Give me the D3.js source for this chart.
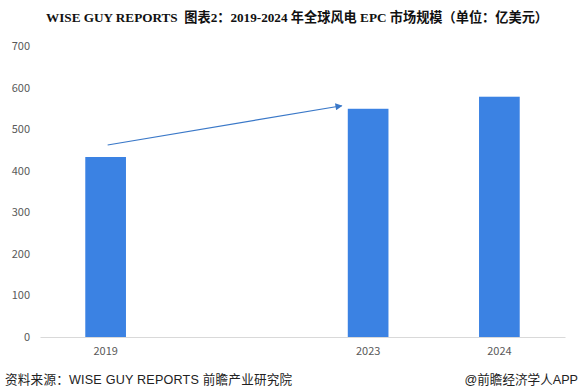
<!DOCTYPE html>
<html><head><meta charset="utf-8">
<script src="https://cdn.jsdelivr.net/npm/d3@7"></script>
<style>body{margin:0;background:#fff;}svg{display:block;} text{white-space:pre;}</style>
</head><body>
<svg id="c" width="582" height="390"></svg>
<script>
const categories = ["2019", "", "2023", "2024"];
const values = [433, null, 549, 578];
const yTicks = [0, 100, 200, 300, 400, 500, 600, 700];
const title = "WISE GUY REPORTS  图表2：2019-2024 年全球风电 EPC 市场规模（单位：亿美元）";
const source = "资料来源：WISE GUY REPORTS 前瞻产业研究院";
const credit = "@前瞻经济学人APP";

const svg = d3.select("#c");
const x = d3.scaleBand().domain(categories).range([40, 565]).paddingInner(0.69).paddingOuter(0.345);
const y = d3.scaleLinear().domain([0, 700]).range([337, 46]);

svg.append("text").attr("x", 297).attr("y", 22).attr("text-anchor", "middle")
  .attr("font-family", "Liberation Serif, 'Noto Sans CJK SC', serif").attr("font-weight", "bold")
  .attr("font-size", 13.2).attr("fill", "#111").text(title);

// y axis labels
const yAxis = d3.axisLeft(y).tickValues(yTicks).tickSize(0).tickPadding(0);
const yg = svg.append("g").attr("transform", "translate(30,0)").call(yAxis);
yg.select(".domain").remove();
yg.selectAll("text").attr("font-family", "'Microsoft YaHei', 'Noto Sans CJK SC', sans-serif")
  .attr("font-size", 11).attr("fill", "#595959");

// bars
const data = categories.map((c, i) => ({c, v: values[i]})).filter(d => d.v != null);
svg.append("g").selectAll("rect").data(data).join("rect")
  .attr("x", d => x(d.c)).attr("width", x.bandwidth())
  .attr("y", d => y(d.v)).attr("height", d => y(0) - y(d.v))
  .attr("fill", "#3b82e3");

// x axis
const xAxis = d3.axisBottom(x).tickSize(0).tickPadding(10);
const xg = svg.append("g").attr("transform", `translate(0,${y(0)})`).call(xAxis);
xg.select(".domain").attr("stroke", "#d9d9d9");
xg.selectAll("text").attr("font-family", "'Noto Sans CJK SC', sans-serif")
  .attr("font-size", 11).attr("fill", "#595959");

// arrow
const defs = svg.append("defs");
defs.append("marker").attr("id", "ah").attr("viewBox", "0 0 10 10").attr("refX", 9).attr("refY", 5)
  .attr("markerWidth", 9).attr("markerHeight", 7).attr("markerUnits", "userSpaceOnUse").attr("orient", "auto")
  .append("path").attr("d", "M0,0L10,5L0,10z").attr("fill", "#3a78c8");
const x0 = x("2019") + x.bandwidth() * 0.55, y0 = y(values[0]) - 12;
const x1 = x("2023") - 6, y1 = y(values[2]) - 3;
svg.append("line").attr("x1", x0).attr("y1", y0).attr("x2", x1).attr("y2", y1)
  .attr("stroke", "#3a78c8").attr("stroke-width", 1.2).attr("marker-end", "url(#ah)");

// footer
svg.append("text").attr("x", 5).attr("y", 384).attr("font-family", "'Liberation Sans', 'Noto Sans CJK SC', sans-serif")
  .attr("font-size", 12.6).attr("letter-spacing", 0.2).attr("fill", "#222").text(source);
svg.append("text").attr("x", 578).attr("y", 384).attr("text-anchor", "end").attr("font-family", "'Liberation Sans', 'Noto Sans CJK SC', sans-serif")
  .attr("font-size", 12.6).attr("fill", "#222").text(credit);
</script>
</body></html>
